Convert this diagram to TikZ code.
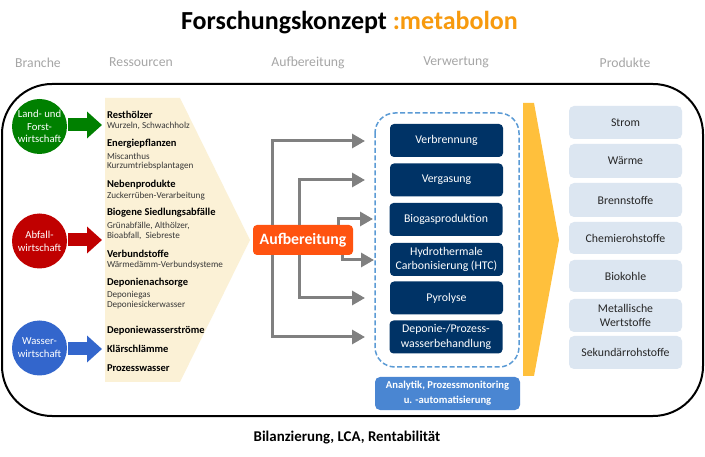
\documentclass[tikz,border=0pt]{standalone}
\usepackage{fontspec}
\setmainfont{Carlito}
\usetikzlibrary{arrows.meta}
\definecolor{cgreen}{HTML}{008000}
\definecolor{cred}{HTML}{C00000}
\definecolor{cblue}{HTML}{3366CC}
\definecolor{cream}{HTML}{FBF1D6}
\definecolor{orangeb}{HTML}{FF5310}
\definecolor{navy}{HTML}{003366}
\definecolor{dashb}{HTML}{5B9BD5}
\definecolor{analyt}{HTML}{4A86D2}
\definecolor{yell}{HTML}{FFC03C}
\definecolor{prod}{HTML}{DCE6F1}
\definecolor{headg}{HTML}{A6A6A6}
\definecolor{titleo}{HTML}{F79A0E}
\tikzset{
  x=1pt,y=-1pt,
  every node/.style={inner sep=0pt,outer sep=0pt,align=center},
  headl/.style={text=headg,font=\fontsize{13.7}{15}\selectfont},
  circ/.style={circle,minimum size=55pt,text=white,font=\fontsize{10.7}{12.8}\selectfont},
  blockarrow/.style={line width=13pt,-{Triangle[length=15pt,width=26pt]}},
  res/.style={anchor=west,font=\bfseries\fontsize{10.5}{12}\selectfont},
  sub/.style={anchor=west,text=black!78,font=\fontsize{9.15}{10.5}\selectfont},
  proc/.style={rectangle,rounded corners=4pt,fill=navy,text=white,minimum width=113pt,minimum height=33pt,font=\fontsize{11.8}{14.8}\selectfont},
  prodb/.style={rectangle,rounded corners=5pt,fill=prod,text=black!85,minimum width=113pt,minimum height=33pt,font=\fontsize{11.8}{14.8}\selectfont},
  grayarrow/.style={draw=black!50,line width=3pt,-{Triangle[length=13pt,width=14pt]}},
}
\begin{document}
\begin{tikzpicture}
\useasboundingbox (0,0) rectangle (705,457);
\fill[white] (0,0) rectangle (705,457);
% title
\node[font=\bfseries\fontsize{26}{30}\selectfont] (title) at (349.5,23) {Forschungskonzept \textcolor{titleo}{:metabolon}};
% headers
\node[headl] (h1) at (38,62.5) {Branche};
\node[headl] (h2) at (141,62.5) {Ressourcen};
\node[headl] (h3) at (308,62.5) {Aufbereitung};
\node[headl] (h4) at (456,62.5) {Verwertung};
\node[headl] (h5) at (625,62.5) {Produkte};
% outer frame
\draw[line width=2pt,rounded corners=50pt] (2,84) rectangle (703,416);
% resource pentagon
\fill[cream] (105,98) -- (180,98) -- (250,240) -- (180,382) -- (105,382) -- cycle;
\coordinate (r1) at (105,125);
\coordinate (r2) at (105,240);
\coordinate (r3) at (105,349);
% sectors
\node[circ,fill=cgreen] (land) at (39.5,126.5) {Land- und\\Forst-\\wirtschaft};
\node[circ,fill=cred] (abfall) at (39.5,241) {Abfall-\\wirtschaft};
\node[circ,fill=cblue] (wasser) at (39.5,348) {Wasser-\\wirtschaft};
\draw[blockarrow,cgreen,shorten <=1pt,shorten >=3pt] (land.east |- r1) -- (r1);
\draw[blockarrow,cred,shorten <=1pt,shorten >=3pt] (abfall.east |- r2) -- (r2);
\draw[blockarrow,cblue,shorten <=1pt,shorten >=3pt] (wasser.east |- r3) -- (r3);
% resources
\node[res] (a1) at (107,115) {Resthölzer};
\node[sub] (a2) at (107,126) {Wurzeln, Schwachholz};
\node[res] (a3) at (107,144) {Energiepflanzen};
\node[sub] (a4) at (107,156) {Miscanthus};
\node[sub] (a5) at (107,166) {Kurzumtriebsplantagen};
\node[res] (a6) at (107,185) {Nebenprodukte};
\node[sub] (a7) at (107,196) {Zuckerrüben-Verarbeitung};
\node[res] (a8) at (107,213) {Biogene Siedlungsabfälle};
\node[sub] (a9) at (107,226) {Grünabfälle, Althölzer,};
\node[sub] (a10) at (107,236) {Bioabfall,\ \ Siebreste};
\node[res] (a11) at (107,254) {Verbundstoffe};
\node[sub] (a12) at (107,265) {Wärmedämm-Verbundsysteme};
\node[res] (a13) at (107,283) {Deponienachsorge};
\node[sub] (a14) at (107,295) {Deponiegas};
\node[sub] (a15) at (107,305) {Deponiesickerwasser};
\node[res] (a16) at (107,331) {Deponiewasserströme};
\node[res] (a17) at (107,349) {Klärschlämme};
\node[res] (a18) at (107,368) {Prozesswasser};
% dashed frame
\draw[dashb,line width=1.5pt,dash pattern=on 5pt off 2.5pt,rounded corners=20pt] (375,113) rectangle (519,367);
% process boxes
\node[proc] (p1) at (446.5,140.5) {Verbrennung};
\node[proc] (p2) at (446.5,180) {Vergasung};
\node[proc] (p3) at (446,219.5) {Biogasproduktion};
\node[proc] (p4) at (446.5,259.5) {Hydrothermale\\Carbonisierung (HTC)};
\node[proc] (p5) at (446.5,298) {Pyrolyse};
\node[proc] (p6) at (446,337) {Deponie-/Prozess-\\wasserbehandlung};
\node[rectangle,rounded corners=5pt,fill=analyt,text=white,minimum width=145pt,minimum height=33pt,font=\bfseries\fontsize{10.6}{15}\selectfont] (an) at (447.5,393.5) {Analytik, Prozessmonitoring\\u. -automatisierung};
% Aufbereitung
\node[rectangle,rounded corners=4pt,fill=orangeb,text=white,minimum width=100pt,minimum height=30pt,font=\bfseries\fontsize{15.8}{18}\selectfont] (auf) at (303,240) {Aufbereitung};
% gray connectors
\coordinate (t1) at (365,141);
\coordinate (t2) at (365,180);
\coordinate (t3) at (373,219);
\coordinate (t4) at (374,260);
\coordinate (t5) at (365,298);
\coordinate (t6) at (365,337);
\coordinate (x1) at (272,0);
\coordinate (x2) at (299,0);
\coordinate (x3) at (338,0);
\coordinate (x4) at (342,0);
\draw[grayarrow] (auf.north -| x1) |- (t1);
\draw[grayarrow] (auf.north -| x2) |- (t2);
\draw[grayarrow] (auf.north -| x3) |- (t3);
\draw[grayarrow] (auf.south -| x4) |- (t4);
\draw[grayarrow] (auf.south -| x2) |- (t5);
\draw[grayarrow] (auf.south -| x1) |- (t6);
% yellow arrow
\fill[yell] (523,103) -- (534,103) -- (559,240) -- (534,376) -- (523,376) -- cycle;
% products
\node[prodb] (q1) at (625.5,122.5) {Strom};
\node[prodb,minimum height=34pt] (q2) at (625.5,161) {Wärme};
\node[prodb,minimum height=34pt] (q3) at (625.5,200) {Brennstoffe};
\node[prodb,minimum height=32pt] (q4) at (625.5,238) {Chemierohstoffe};
\node[prodb,minimum height=32pt] (q5) at (625.5,276) {Biokohle};
\node[prodb] (q6) at (625.5,315.5) {Metallische\\Wertstoffe};
\node[prodb] (q7) at (625.5,352.5) {Sekundärrohstoffe};
% bottom
\node[font=\bfseries\fontsize{14.9}{16}\selectfont] (bot) at (347,438) {Bilanzierung, LCA, Rentabilität};
\end{tikzpicture}
\end{document}
